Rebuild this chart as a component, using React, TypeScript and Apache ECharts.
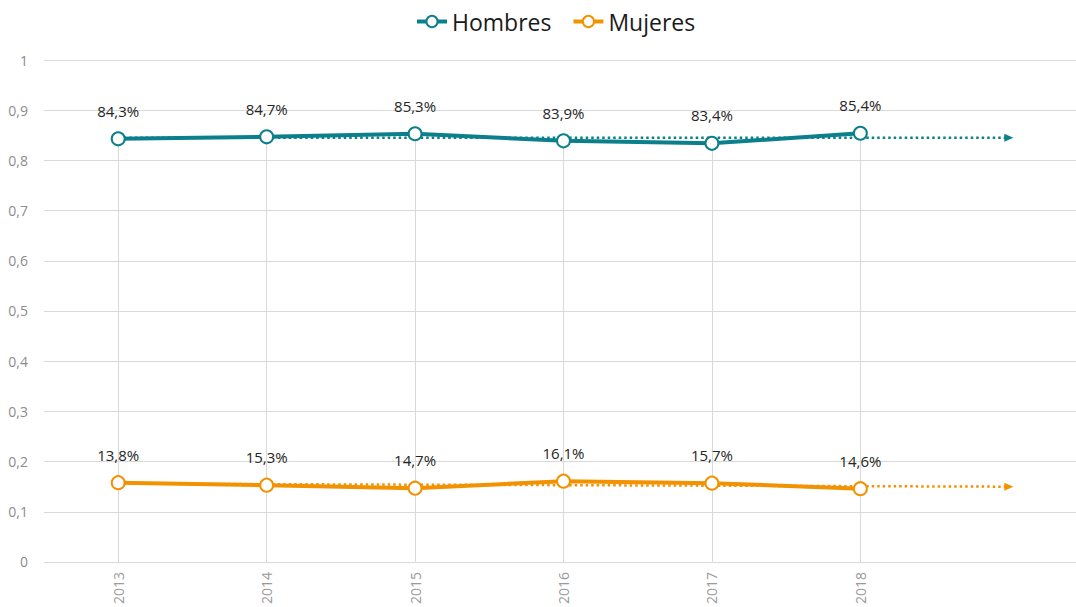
import React, { useEffect, useRef } from "react";
import * as echarts from "echarts";

const years = ["2013", "2014", "2015", "2016", "2017", "2018"];
const xCategories = [...years, ""];
const hombres = [0.843, 0.847, 0.853, 0.839, 0.834, 0.854];
const mujeres = [0.158, 0.153, 0.147, 0.161, 0.157, 0.146];
const hombresLabels = ["84,3%", "84,7%", "85,3%", "83,9%", "83,4%", "85,4%"];
const mujeresLabels = ["13,8%", "15,3%", "14,7%", "16,1%", "15,7%", "14,6%"];
const hombresTrend = [0.845, 0.845];
const mujeresTrend = [0.156, 0.15];

const TEAL = "#0c7f8c";
const ORANGE = "#f39200";
const FONT = "Open Sans";

export default function App() {
  const ref = useRef<HTMLDivElement>(null);
  useEffect(() => {
    document.body.style.margin = "0";
    const chart = echarts.init(ref.current!, null, { renderer: "svg" });
    const last = xCategories.length - 1;
    const trend = (name: string, vals: number[], color: string) => ({
      name: name + " tendencia",
      type: "line",
      z: 3,
      silent: true,
      showSymbol: true,
      data: [
        { value: [0, vals[0]], symbol: "none" },
        { value: [last, vals[1]], symbol: "triangle", symbolRotate: -90, symbolSize: [8, 9] },
      ],
      itemStyle: { color },
      lineStyle: { color, width: 2.5, type: [2.5, 3] },
      label: { show: false },
    });
    const labelStyle = {
      show: true,
      position: "top",
      distance: 13,
      fontSize: 15,
      color: "#262626",
      fontFamily: FONT,
    };
    chart.setOption({
      animation: false,
      textStyle: { fontFamily: FONT },
      legend: {
        data: ["Hombres", "Mujeres"],
        top: 5,
        left: 410,
        itemWidth: 30,
        itemHeight: 14,
        itemGap: 20,
        lineStyle: { width: 4 },
        textStyle: { fontSize: 23, color: "#1a1a1a", fontFamily: FONT },
      },
      grid: { left: 44, right: 0, top: 60, bottom: 45 },
      xAxis: {
        type: "category",
        data: xCategories,
        boundaryGap: true,
        axisLine: { show: true, lineStyle: { color: "#d9d9d9" } },
        axisTick: { show: false },
        splitLine: { show: false },
        axisLabel: { rotate: 90, color: "#9a9a9a", fontSize: 14, margin: 10, fontFamily: FONT },
      },
      yAxis: {
        type: "value",
        min: 0,
        max: 1,
        interval: 0.1,
        axisLine: { show: false },
        axisTick: { show: false },
        splitLine: { lineStyle: { color: "#d9d9d9" } },
        axisLabel: {
          color: "#8c8c8c",
          fontSize: 14,
          margin: 16,
          fontFamily: FONT,
          formatter: (v: number) => String(+v.toFixed(1)).replace(".", ","),
        },
      },
      series: [
        {
          name: "Hombres",
          type: "line",
          z: 4,
          data: hombres,
          symbol: "emptyCircle",
          symbolSize: 13,
          itemStyle: { color: TEAL, borderWidth: 2 },
          lineStyle: { color: TEAL, width: 4 },
          label: { ...labelStyle, formatter: (p: any) => hombresLabels[p.dataIndex] },
          markLine: {
            silent: true,
            symbol: "none",
            z: 1,
            label: { show: false },
            lineStyle: { color: "#d9d9d9", width: 1, type: "solid" },
            data: years.map((_, i) => [
              { coord: [i, 0] },
              { coord: [i, hombres[i]] },
            ]),
          },
        },
        {
          name: "Mujeres",
          type: "line",
          z: 4,
          data: mujeres,
          symbol: "emptyCircle",
          symbolSize: 13,
          itemStyle: { color: ORANGE, borderWidth: 2 },
          lineStyle: { color: ORANGE, width: 4 },
          label: { ...labelStyle, formatter: (p: any) => mujeresLabels[p.dataIndex] },
        },
        trend("Hombres", hombresTrend, TEAL),
        trend("Mujeres", mujeresTrend, ORANGE),
      ],
    });
    return () => chart.dispose();
  }, []);
  return (
    <div style={{ position: "absolute", left: 0, top: 0, width: 1076, height: 607, overflow: "hidden" }}>
      <div ref={ref} style={{ width: 1083, height: 607 }} />
    </div>
  );
}
